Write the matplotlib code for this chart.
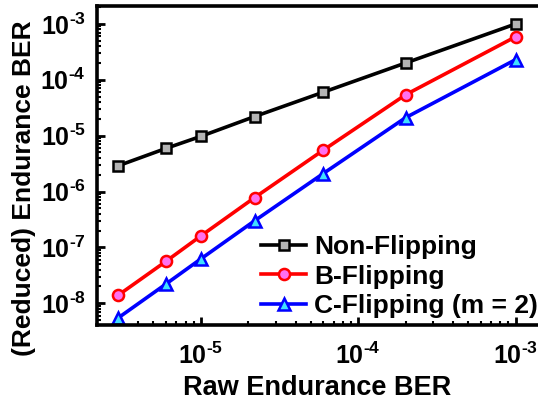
import matplotlib
matplotlib.use("Agg")
import matplotlib.pyplot as plt
from matplotlib.ticker import LogLocator, NullFormatter, FuncFormatter
import numpy as np

raw_ber = [3e-6, 6e-6, 1e-5, 2.2e-5, 6e-5, 2e-4, 1e-3]
non_flip = [2.9e-6, 5.9e-6, 9.7e-6, 2.2e-5, 6.0e-5, 2.0e-4, 1.0e-3]
b_flip = [1.4e-8, 5.6e-8, 1.6e-7, 7.8e-7, 5.5e-6, 5.4e-5, 5.9e-4]
c_flip = [5.5e-9, 2.2e-8, 6.2e-8, 3.0e-7, 2.1e-6, 2.1e-5, 2.3e-4]
labels = ["Non-Flipping", "B-Flipping", "C-Flipping (m = 2)"]

plt.rcParams['font.family'] = ['Liberation Sans', 'DejaVu Sans']
plt.rcParams['font.weight'] = 'bold'
plt.rcParams['mathtext.fontset'] = 'custom'
plt.rcParams['mathtext.rm'] = 'Liberation Sans:bold'
plt.rcParams['mathtext.bf'] = 'Liberation Sans:bold'
plt.rcParams['mathtext.default'] = 'rm'

fig = plt.figure(figsize=(5.38, 4.03), dpi=100)
ax = fig.add_axes([0.180, 0.1935, 0.84, 0.7915])

lw = 2.6
ms = 7.5
ax.plot(raw_ber, non_flip, '-s', color='black', lw=lw, ms=ms, mfc='#b4b4b4', mec='black', mew=1.8, label=labels[0])
ax.plot(raw_ber, b_flip, '-o', color='red', lw=lw, ms=ms + 0.5, mfc='#ff70f0', mec='red', mew=1.8, label=labels[1])
ax.plot(raw_ber, c_flip, '-^', color='blue', lw=lw, ms=ms + 1.5, mfc='#40e0ff', mec='blue', mew=1.8, label=labels[2])

ax.set_xscale('log')
ax.set_yscale('log')
ax.set_xlim(10 ** -5.66, 10 ** -2.79)
ax.set_ylim(10 ** -8.39, 10 ** -2.68)

HY = '\u2010'

def fmt(v, pos):
    e = int(round(np.log10(v)))
    if e < 0:
        return '$10^{' + HY + str(-e) + '}$'
    return '$10^{' + str(e) + '}$'

ax.xaxis.set_major_locator(LogLocator(base=10, numticks=10))
ax.yaxis.set_major_locator(LogLocator(base=10, numticks=10))
ax.xaxis.set_major_formatter(FuncFormatter(fmt))
ax.yaxis.set_major_formatter(FuncFormatter(fmt))
ax.xaxis.set_minor_locator(LogLocator(base=10, subs=range(2, 10), numticks=20))
ax.yaxis.set_minor_locator(LogLocator(base=10, subs=range(2, 10), numticks=20))
ax.xaxis.set_minor_formatter(NullFormatter())
ax.yaxis.set_minor_formatter(NullFormatter())

ax.tick_params(which='major', direction='in', length=6, width=2, labelsize=18)
ax.tick_params(axis='y', which='major', pad=8)
ax.tick_params(axis='x', which='major', pad=13)
ax.tick_params(which='minor', direction='in', length=3, width=1.5)
ax.tick_params(top=False, right=False)

for s in ['left', 'bottom', 'top']:
    ax.spines[s].set_linewidth(2.6)
ax.spines['right'].set_visible(False)

ax.set_xlabel('Raw Endurance BER', fontsize=19.5, fontweight='bold')
ax.set_ylabel('(Reduced) Endurance BER', fontsize=19, fontweight='bold')
ax.xaxis.set_label_coords(0.487, -0.157)
ax.yaxis.set_label_coords(-0.135, 0.43)

leg = fig.legend(handles=ax.get_lines(), labels=labels, loc='lower right',
                 bbox_to_anchor=(1.0, 0.21), bbox_transform=fig.transFigure,
                 frameon=False, prop={'weight': 'bold', 'size': 19},
                 handlelength=1.7, handletextpad=0.3, labelspacing=0.22,
                 borderaxespad=0.0, borderpad=0.0)

fig.savefig('out.png', dpi=100)
